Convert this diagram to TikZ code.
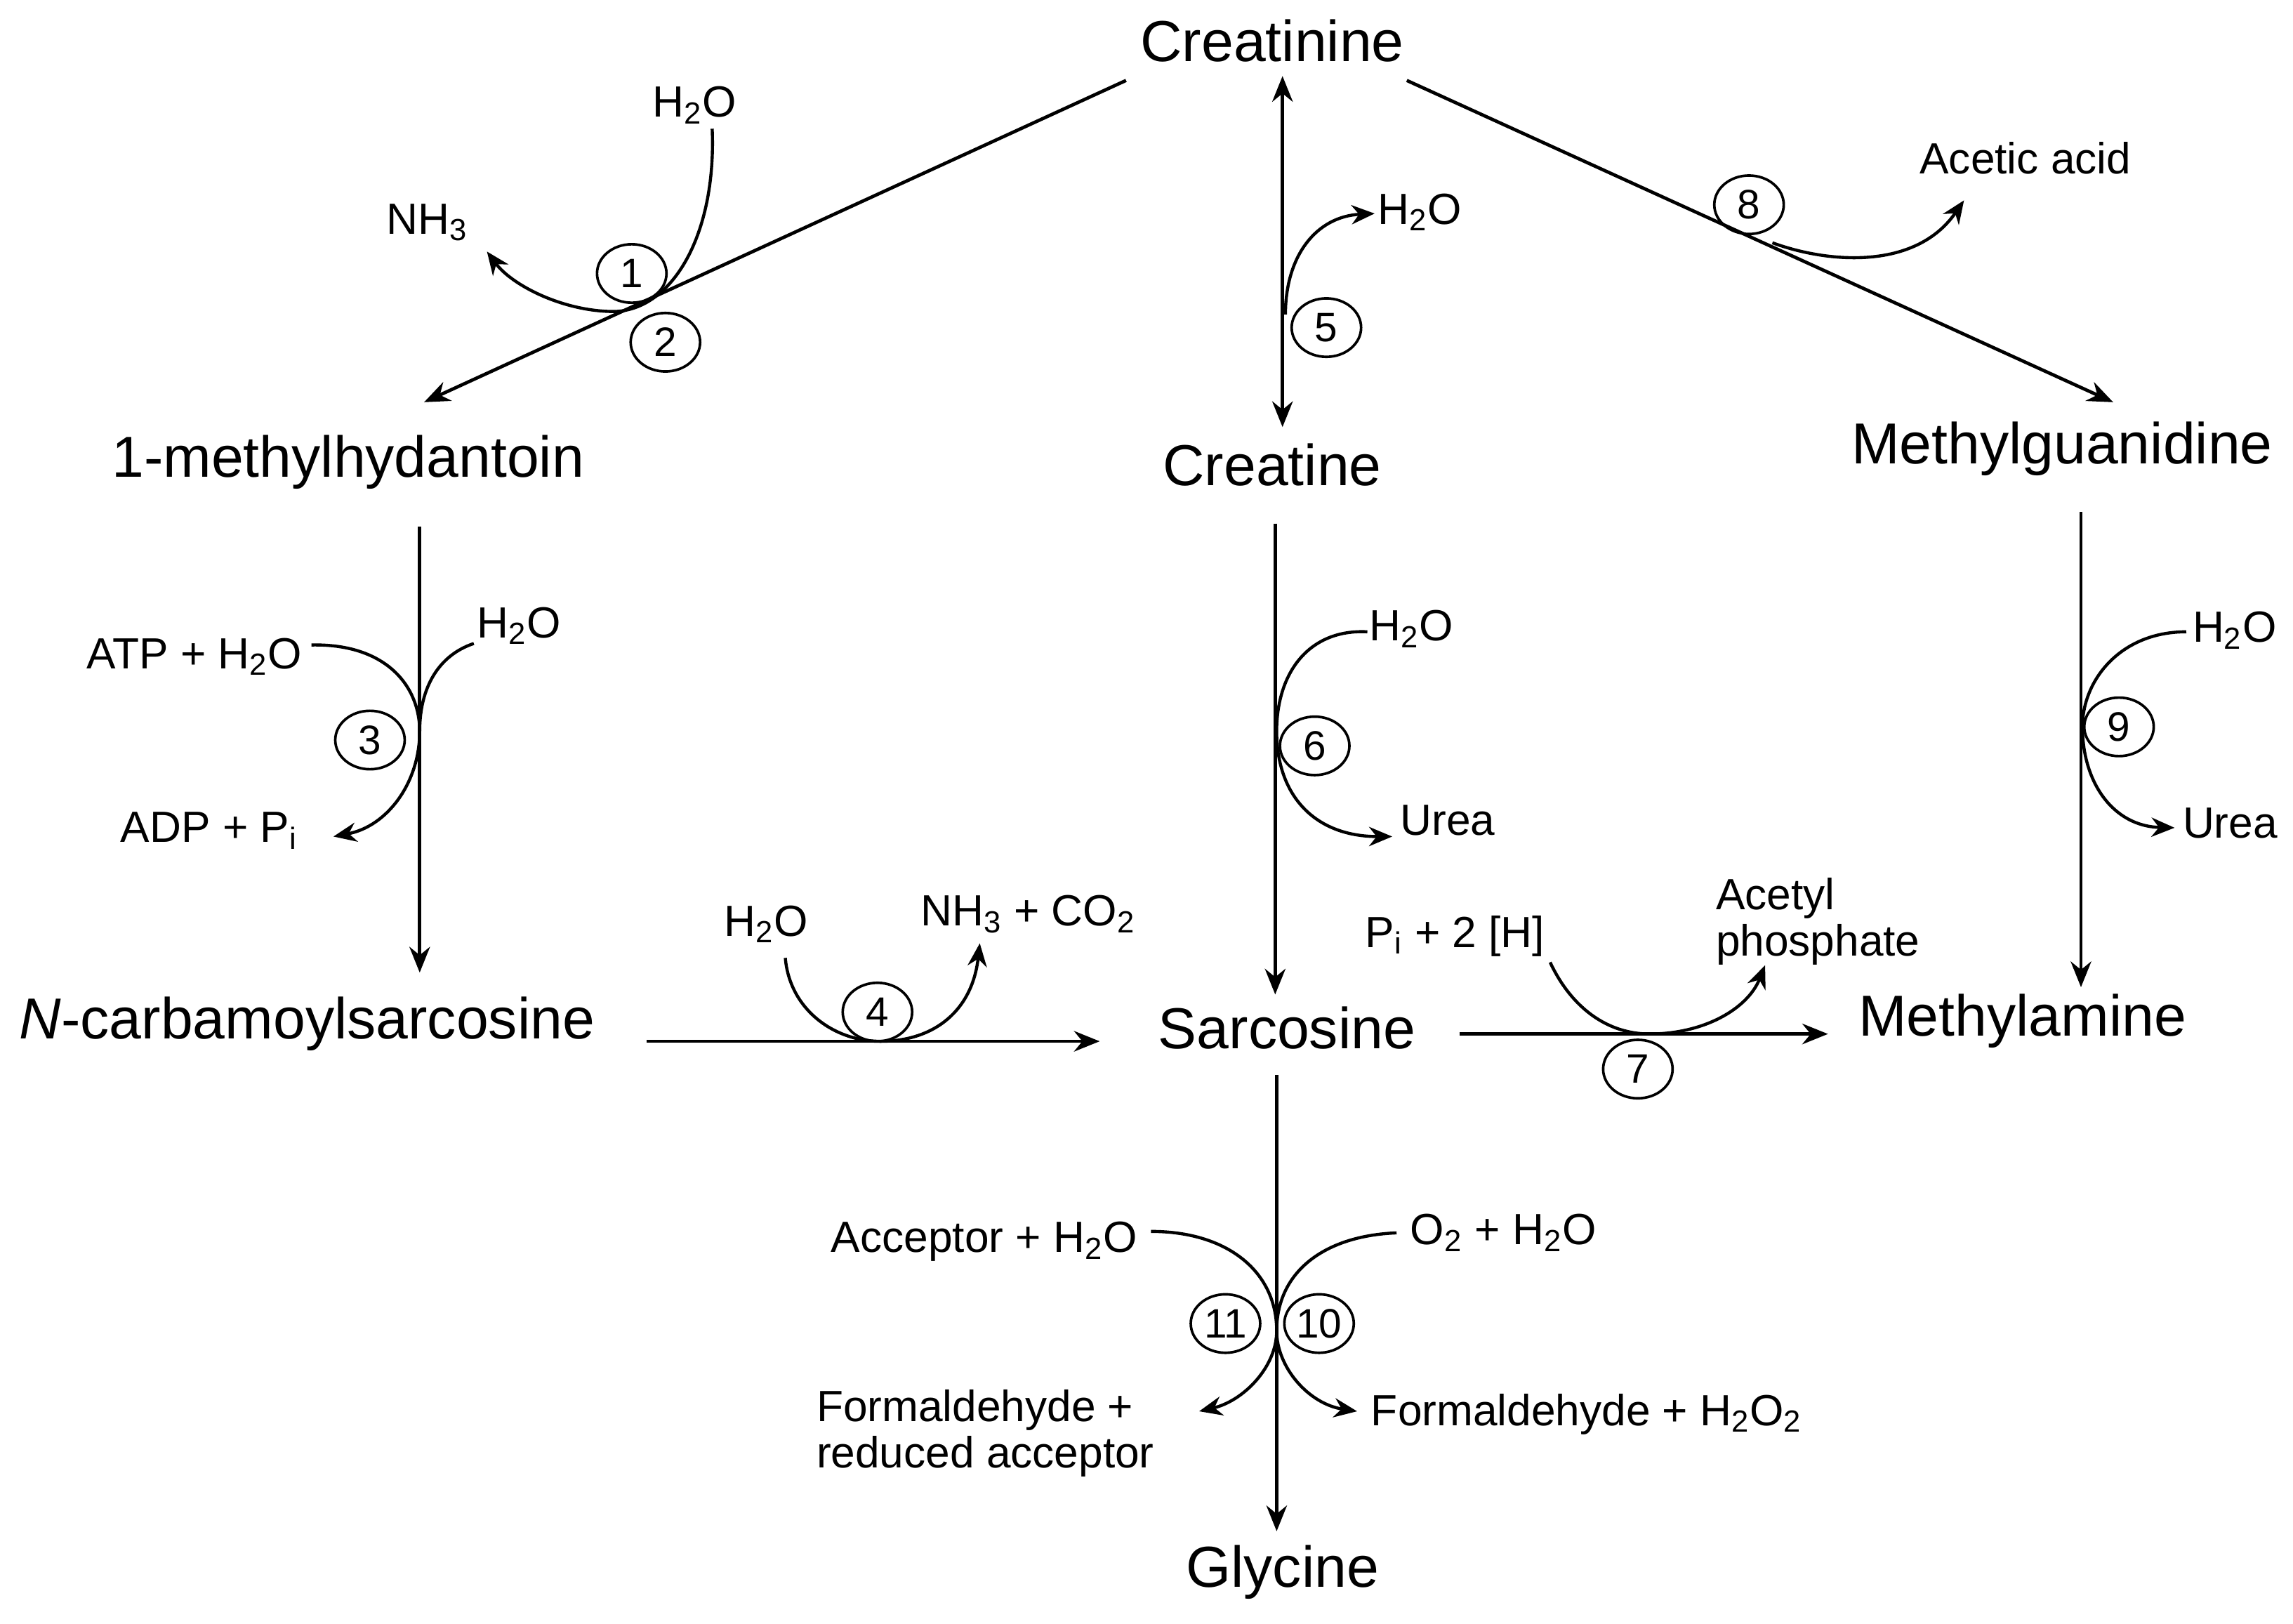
\documentclass[tikz,border=0pt]{standalone}
\usepackage{fontspec}
\setmainfont{Liberation Sans}
\usetikzlibrary{arrows.meta,shapes.geometric}
\begin{document}
\begin{tikzpicture}[x=0.02cm,y=-0.02cm,
 big/.style={font=\fontsize{22.5}{26}\selectfont,inner sep=0pt},
 sm/.style={font=\fontsize{17}{19}\selectfont,inner sep=0pt,align=left},
 num/.style={draw,ellipse,line width=1pt,minimum width=0.95cm,minimum height=0.8cm,inner sep=0pt,font=\fontsize{16}{18}\selectfont},
 ar/.style={line width=1.3pt,-{Stealth[length=10pt,width=8pt]}},
 cv/.style={line width=1.2pt,-{Stealth[length=9pt,width=7.5pt]}}]
\useasboundingbox (0,0) rectangle (1568,1110);
% main nodes
\node[big] (crn) at (870,28) {Creatinine};
\node[big] (mh) at (238,316) {1-methylhydantoin};
\node[big] (cre) at (870,318) {Creatine};
\node[big] (mg) at (1410,307) {Methylguanidine};
\node[big] (ncs) at (210,700) {\textit{N}-carbamoylsarcosine};
\node[big] (sar) at (880,703) {Sarcosine};
\node[big] (ma) at (1383,698) {Methylamine};
\node[big] (gly) at (877,1075) {Glycine};
% main arrows
\coordinate (a1) at (770,55); \coordinate (b1) at (290,275);
\draw[ar] (a1) -- (b1);
\coordinate (a5) at (877,52); \coordinate (b5) at (877,292);
\draw[line width=1.3pt,{Stealth[length=10pt,width=8pt]}-{Stealth[length=10pt,width=8pt]}] (a5) -- (b5);
\coordinate (a8) at (962,55); \coordinate (b8) at (1445,275);
\draw[ar] (a8) -- (b8);
\coordinate (a3) at (287,360); \coordinate (b3) at (287,665);
\draw[ar] (a3) -- (b3);
\coordinate (a6) at (872,358); \coordinate (b6) at (872,680);
\draw[ar] (a6) -- (b6);
\coordinate (a9) at (1423,350); \coordinate (b9) at (1423,675);
\draw[ar] (a9) -- (b9);
\coordinate (a4) at (442,712); \coordinate (b4) at (752,712);
\draw[ar] (a4) -- (b4);
\coordinate (a7) at (998,707); \coordinate (b7) at (1250,707);
\draw[ar] (a7) -- (b7);
\coordinate (a10) at (873,735); \coordinate (b10) at (873,1047);
\draw[ar] (a10) -- (b10);
% labels
\node[sm] (w1) at (475,72) {H\textsubscript{2}O};
\node[sm] (nh3) at (292,152) {NH\textsubscript{3}};
\node[num] (c1) at (432,187) {1};
\node[num] (c2) at (455,234) {2};
\draw[cv] (487,88) .. controls (490,160) and (460,212) .. (420,213) .. controls (385,213) and (350,195) .. (333,172);
\node[sm] (w5) at (971,145) {H\textsubscript{2}O};
\node[num] (c5) at (907,224) {5};
\draw[cv] (879,215) .. controls (879,175) and (900,148) .. (940,146);
\node[sm] (aa) at (1385,108) {Acetic acid};
\node[num] (c8) at (1196,140) {8};
\draw[cv] (1212,166) .. controls (1250,180) and (1310,185) .. (1343,137);
\node[sm] (atp) at (133,449) {ATP + H\textsubscript{2}O};
\node[sm] (w3) at (355,428) {H\textsubscript{2}O};
\node[sm] (adp) at (143,568) {ADP + P\textsubscript{i}};
\node[num] (c3) at (253,506) {3};
\draw[line width=1.2pt] (213,441) .. controls (265,440) and (287,470) .. (287,500);
\draw[cv] (324,440) .. controls (300,448) and (287,470) .. (287,500) .. controls (287,535) and (265,565) .. (228,572);
\node[sm] (w6) at (965,430) {H\textsubscript{2}O};
\node[sm] (u6) at (990,561) {Urea};
\node[num] (c6) at (899,510) {6};
\draw[cv] (935,432) .. controls (895,430) and (873,460) .. (873,500) .. controls (873,545) and (900,572) .. (952,572);
\node[sm] (w9) at (1528,431) {H\textsubscript{2}O};
\node[sm] (u9) at (1525,563) {Urea};
\node[num] (c9) at (1449,497) {9};
\draw[cv] (1495,432) .. controls (1450,432) and (1424,465) .. (1424,497) .. controls (1424,535) and (1445,565) .. (1487,566);
\node[sm] (w4) at (524,632) {H\textsubscript{2}O};
\node[sm] (nc) at (703,625) {NH\textsubscript{3} + CO\textsubscript{2}};
\node[num] (c4) at (600,692) {4};
\draw[cv] (537,655) .. controls (540,690) and (570,712) .. (602,712) .. controls (640,712) and (665,690) .. (670,645);
\node[sm] (pi) at (995,640) {P\textsubscript{i} + 2 [H]};
\node[sm,anchor=west,align=left] (ap) at (1173,630) {Acetyl\\[-1pt]phosphate};
\node[num] (c7) at (1120,731) {7};
\draw[cv] (1060,658) .. controls (1075,690) and (1100,707) .. (1128,707) .. controls (1165,707) and (1195,690) .. (1207,660);
\node[sm] (acc) at (673,849) {Acceptor + H\textsubscript{2}O};
\node[sm] (o2) at (1028,843) {O\textsubscript{2} + H\textsubscript{2}O};
\node[sm,anchor=west] (f1) at (558,980) {Formaldehyde +\\[-1pt]reduced acceptor};
\node[sm] (f2) at (1085,967) {Formaldehyde + H\textsubscript{2}O\textsubscript{2}};
\node[num] (c11) at (838,905) {11};
\node[num] (c10) at (902,905) {10};
\draw[cv] (787,842) .. controls (840,842) and (873,870) .. (873,910) .. controls (873,935) and (850,958) .. (820,965);
\draw[cv] (955,843) .. controls (905,845) and (873,870) .. (873,910) .. controls (873,935) and (895,960) .. (928,965);
\end{tikzpicture}
\end{document}
